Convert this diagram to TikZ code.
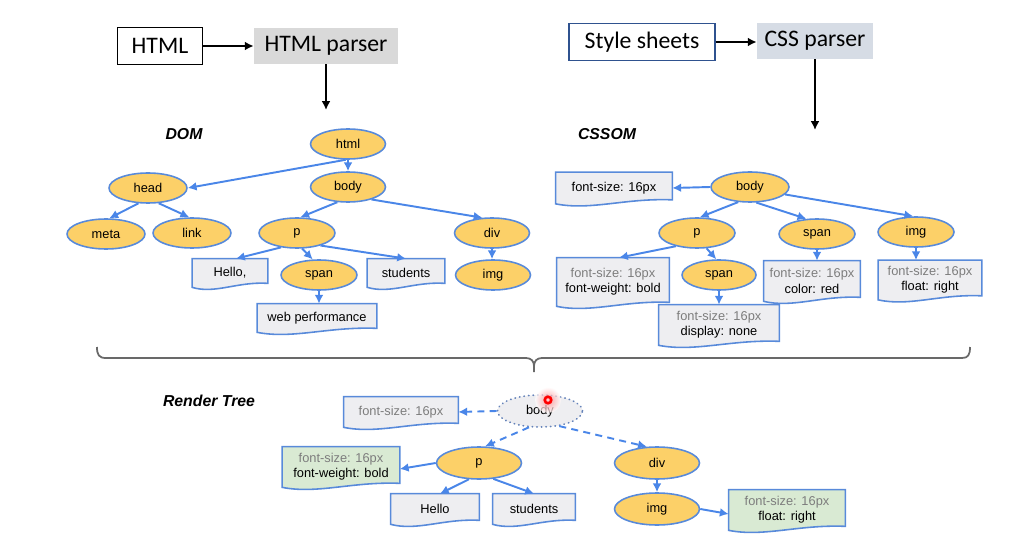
\documentclass[tikz,border=0pt]{standalone}
\usepackage{fontspec}
\setmainfont{Liberation Sans}
\newfontfamily\carlito{Carlito}
\usetikzlibrary{arrows.meta,shapes.geometric,calc,backgrounds}
\definecolor{nodefill}{RGB}{252,208,104}
\definecolor{nodeline}{RGB}{88,138,218}
\definecolor{arr}{RGB}{74,134,232}
\definecolor{docfill}{RGB}{238,238,241}
\definecolor{greenfill}{RGB}{217,234,211}
\definecolor{graytext}{RGB}{125,125,125}
\definecolor{parsergray}{RGB}{217,217,217}
\definecolor{cssgray}{RGB}{214,220,229}
\definecolor{ssborder}{RGB}{47,82,143}
\definecolor{bracegray}{RGB}{105,105,105}
\definecolor{dotline}{RGB}{100,130,185}
\newcommand\docshape[2]{\draw[draw=nodeline, line width=0.9pt, fill=#2]
  (#1.north west) -- (#1.north east) -- ($(#1.south east)+(0,-4)$)
  .. controls ($(#1.south west)!0.6!(#1.south east)+(0,-6)$) and ($(#1.south west)!0.3!(#1.south east)+(0,7)$) ..
  (#1.south west) -- cycle;}
\begin{document}
\begin{tikzpicture}[x=0.02cm,y=-0.02cm,
  tree/.style={font=\fontsize{7.3}{8.7}\selectfont},
  elem/.style={ellipse, draw=nodeline, line width=0.9pt, fill=nodefill, minimum width=1.5cm, minimum height=0.6cm, inner sep=0pt, tree},
  relem/.style={elem, minimum width=1.7cm, minimum height=0.64cm},
  doc/.style={rectangle, inner sep=0pt, align=center, tree},
  link/.style={draw=arr, line width=1.1pt, -{Latex[length=5pt,width=5pt]}},
  dlink/.style={link, dash pattern=on 4pt off 3pt},
  blk/.style={draw=black, line width=1.2pt, -{Latex[length=5pt,width=5pt]}},
  lbl/.style={font=\fontsize{9}{10}\selectfont\bfseries\itshape, inner sep=0pt},
  topbox/.style={font=\carlito\fontsize{13.5}{15}\selectfont, inner sep=0pt},
]
\useasboundingbox (0,0) rectangle (1024,557);

% ---- top parsers
\node[topbox, draw=black, line width=0.8pt, minimum width=1.7cm, minimum height=0.74cm] (html) at (160,46) {HTML};
\node[topbox, fill=parsergray, minimum width=2.88cm, minimum height=0.72cm] (hparser) at (326,46) {HTML parser};
\coordinate (domin) at (326,110);
\draw[blk] (html.east) -- (hparser.west);
\draw[blk] (hparser.south) -- (domin);

\node[topbox, draw=ssborder, line width=0.8pt, minimum width=2.92cm, minimum height=0.74cm] (ss) at (642,42) {Style sheets};
\node[topbox, fill=cssgray, minimum width=2.32cm, minimum height=0.72cm] (cparser) at (815,41) {CSS parser};
\coordinate (cssin) at (815,130);
\draw[blk] (ss.east) -- (ss.east -| cparser.west);
\draw[blk] (cparser.south) -- (cssin);

% ---- labels
\node[lbl] (domlbl) at (184,134) {DOM};
\node[lbl] (cssomlbl) at (607,134) {CSSOM};
\node[lbl] (rtlbl) at (209,401) {Render Tree};

% ---- DOM
\node[elem] (dhtml) at (348,144) {html};
\node[elem] (dbody) at (348,187) {body};
\node[elem, minimum width=1.56cm] (dhead) at (148,188) {head};
\node[elem, minimum width=1.56cm] (dmeta) at (106,234) {meta};
\node[elem, minimum width=1.56cm] (dlink) at (192,233) {link};
\node[elem, minimum width=1.52cm] (dp) at (297,233) {p};
\node[elem] (ddiv) at (492,233) {div};
\node[elem, minimum width=1.52cm] (dspan) at (319,275) {span};
\node[elem] (dimg) at (493,275) {img};
\node[doc, minimum width=1.5cm, minimum height=0.56cm] (dhello) at (230,273) {Hello,};
\node[doc, minimum width=1.54cm, minimum height=0.56cm] (dstud) at (406,273) {students};
\node[doc, minimum width=2.38cm, minimum height=0.56cm] (dweb) at (317,318) {web performance};

% ---- CSSOM
\node[elem, minimum width=1.56cm] (cbody) at (750,187) {body};
\node[doc, minimum width=2.32cm, minimum height=0.62cm] (cfs) at (614,188) {font-size: 16px};
\node[elem, minimum width=1.52cm] (cp) at (697,233) {p};
\node[elem, minimum width=1.52cm] (cspanR) at (817,234) {span};
\node[elem, minimum width=1.52cm] (cimg) at (916,232) {img};
\node[doc, minimum width=2.24cm, minimum height=0.96cm] (cpbox) at (613,282) {\textcolor{graytext}{font-size: 16px}\\font-weight: bold};
\node[elem, minimum width=1.48cm] (cspanL) at (719,275) {span};
\node[doc, minimum width=2.4cm, minimum height=0.8cm] (cspanLbox) at (719,325) {\textcolor{graytext}{font-size: 16px}\\display: none};
\node[doc, minimum width=1.92cm, minimum height=0.8cm] (cspanRbox) at (812,281) {\textcolor{graytext}{font-size: 16px}\\color: red};
\node[doc, minimum width=2.06cm, minimum height=0.78cm] (cimgbox) at (930,280) {\textcolor{graytext}{font-size: 16px}\\float: right};

% ---- Render tree
\node[relem, draw=dotline, fill=docfill, line width=1pt, dash pattern=on 0.2pt off 2.4pt, line cap=round] (rbody) at (540,411) {\raisebox{-2.2pt}{body}};
\node[doc, minimum width=2.28cm, minimum height=0.6cm] (rfs) at (401,412) {\textcolor{graytext}{font-size: 16px}};
\node[relem] (rp) at (479,463) {p};
\node[doc, minimum width=2.34cm, minimum height=0.8cm] (rg1) at (341,467) {\textcolor{graytext}{font-size: 16px}\\font-weight: bold};
\node[doc, minimum width=1.76cm, minimum height=0.6cm] (rhello) at (435,509) {Hello};
\node[doc, minimum width=1.64cm, minimum height=0.6cm] (rstud) at (534,509) {students};
\node[relem] (rdiv) at (657,463) {div};
\node[relem] (rimg) at (657,509) {img};
\node[doc, minimum width=2.32cm, minimum height=0.8cm] (rg2) at (787,510) {\textcolor{graytext}{font-size: 16px}\\float: right};

% red pointer glow
\shade[inner color=red!50, outer color=white, opacity=0.7] (548,400) circle (0.26cm);
\draw[red, line width=1.5pt, fill=red!20] (548,400) circle (0.065cm);

% ---- document shapes
\begin{scope}[on background layer]
\docshape{dhello}{docfill}
\docshape{dstud}{docfill}
\docshape{dweb}{docfill}
\docshape{cfs}{docfill}
\docshape{cpbox}{docfill}
\docshape{cspanLbox}{docfill}
\docshape{cspanRbox}{docfill}
\docshape{cimgbox}{docfill}
\docshape{rfs}{docfill}
\docshape{rg1}{greenfill}
\docshape{rhello}{docfill}
\docshape{rstud}{docfill}
\docshape{rg2}{greenfill}
\end{scope}

% ---- DOM links
\draw[link] (dhtml.262) -- (dhead.east);
\draw[link] (dhtml.south) -- (dbody.north);
\draw[link] (dbody.235) -- (dp.78);
\draw[link] (dbody.-28) -- (ddiv.122);
\draw[link] (dhead.238) -- (dmeta.78);
\draw[link] (dhead.-55) -- (dlink.100);
\draw[link] (dp.222) -- ($(dhello.north)+(6,0)$);
\draw[link] (dp.-72) -- (dspan.112);
\draw[link] (dp.-28) -- (dstud.north);
\draw[link] (dspan.south) -- (dspan.south |- dweb.north);
\draw[link] (ddiv.south) -- (ddiv.south |- dimg.north);

% ---- CSSOM links
\draw[link] (cbody.west) -- (cfs.east);
\draw[link] (cbody.232) -- (cp.80);
\draw[link] (cbody.-68) -- (cspanR.125);
\draw[link] (cbody.-12) -- (cimg.100);
\draw[link] (cp.212) -- ($(cpbox.north)+(6,0)$);
\draw[link] (cp.-58) -- (cspanL.100);
\draw[link] (cspanL.south) -- (cspanL.south |- cspanLbox.north);
\draw[link] (cspanR.south) -- (cspanR.south |- cspanRbox.north);
\draw[link] (cimg.south) -- (cimg.south |- cimgbox.north);

% ---- Render links
\draw[dlink] (rbody.west) -- (rfs.east);
\draw[dlink] (rbody.236) -- (rp.70);
\draw[dlink] (rbody.-38) -- (rdiv.122);
\draw[link] (rp.west) -- ($(rg1.east)+(0,2)$);
\draw[link] (rp.238) -- ($(rhello.north)+(5,0)$);
\draw[link] (rp.-48) -- (rstud.north);
\draw[link] (rdiv.south) -- (rimg.north);
\draw[link] (rimg.east) -- ($(rg2.west)+(0,4)$);

% ---- brace
\draw[bracegray, line width=1pt] (97,347) .. controls (97,355) and (99,358) .. (106,358) -- (526,358)
  .. controls (531,358) and (534,361) .. (534,366) -- (534,372)
  (534,366) .. controls (534,361) and (537,358) .. (542,358) -- (962,358)
  .. controls (968,358) and (970,355) .. (970,347);
\end{tikzpicture}
\end{document}
